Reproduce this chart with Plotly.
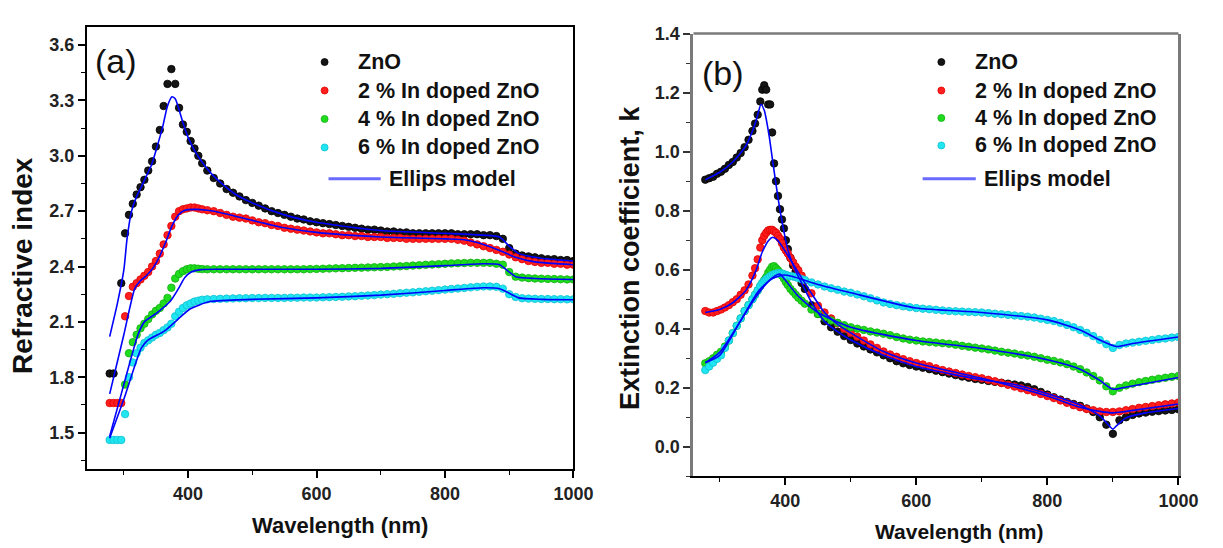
import plotly.graph_objects as go

W, H = 1223, 548

# ---------------- Panel (a): refractive index ----------------
wl_a = [278, 284, 290, 296, 302, 308, 314, 320, 326, 332, 338, 344, 350, 356, 362, 368, 374, 380,
        386, 392, 398, 404, 410, 416, 422,
        430, 440, 450, 460, 470, 480, 490, 500, 510, 520, 530, 540, 550, 560, 570, 580, 590, 600,
        610, 620, 630, 640, 650, 660, 670, 680, 690, 700, 710, 720, 730, 740, 750, 760, 770, 780,
        790, 800, 810, 820, 830, 840, 850, 860, 870, 880, 890, 900, 910, 920, 930, 940, 950, 960,
        970, 980, 990, 1000]

n_zno = [1.82, 1.82, None, 2.31, 2.58, 2.68, 2.74, 2.79, 2.83, 2.87, 2.92, 2.97, 3.05, 3.14, 3.27, 3.39, 3.47, 3.39,
         3.26, 3.17, 3.13, 3.08, 3.04, 3.00, 2.96,
         2.92, 2.88, 2.85, 2.82, 2.80, 2.78, 2.76, 2.745, 2.73, 2.715, 2.70, 2.69, 2.68, 2.67, 2.66, 2.655, 2.645, 2.64,
         2.635, 2.63, 2.625, 2.62, 2.615, 2.61, 2.605, 2.60, 2.60, 2.595, 2.59, 2.59, 2.585, 2.585, 2.58, 2.58, 2.58, 2.58,
         2.58, 2.58, 2.58, 2.575, 2.575, 2.575, 2.575, 2.57, 2.57, 2.565, 2.55, 2.50, 2.47, 2.46, 2.455, 2.45, 2.445, 2.44,
         2.44, 2.435, 2.435, 2.43]

n_in2 = [1.66, 1.66, 1.66, 1.66, 2.13, 2.24, 2.29, 2.31, 2.33, 2.35, 2.37, 2.40, 2.43, 2.47, 2.52, 2.57, 2.62, 2.67,
         2.70, 2.71, 2.715, 2.72, 2.72, 2.715, 2.71,
         2.705, 2.70, 2.69, 2.68, 2.67, 2.665, 2.66, 2.65, 2.64, 2.635, 2.625, 2.62, 2.61, 2.605, 2.60, 2.595, 2.59, 2.585,
         2.58, 2.58, 2.575, 2.57, 2.57, 2.565, 2.565, 2.56, 2.56, 2.56, 2.555, 2.555, 2.555, 2.55, 2.55, 2.55, 2.55, 2.55,
         2.55, 2.55, 2.55, 2.545, 2.54, 2.53, 2.52, 2.51, 2.50, 2.49, 2.48, 2.465, 2.45, 2.44, 2.43, 2.425, 2.42, 2.42,
         2.415, 2.415, 2.41, 2.41]

n_in4 = [None, None, None, None, 1.76, 1.93, 1.99, 2.03, 2.065, 2.09, 2.115, 2.14, 2.16, 2.175, 2.20, 2.23, 2.285, 2.335,
         2.36, 2.375, 2.385, 2.39, 2.39, 2.388, 2.386,
         2.385, 2.385, 2.385, 2.385, 2.385, 2.385, 2.385, 2.385, 2.385, 2.385, 2.385, 2.385, 2.385, 2.385, 2.385, 2.385, 2.386, 2.387,
         2.388, 2.389, 2.39, 2.391, 2.392, 2.393, 2.394, 2.395, 2.396, 2.397, 2.398, 2.40, 2.401, 2.403, 2.405, 2.407, 2.409, 2.411,
         2.413, 2.415, 2.417, 2.418, 2.419, 2.42, 2.42, 2.42, 2.42, 2.415, 2.41, 2.37, 2.345, 2.34, 2.337, 2.335, 2.334, 2.333,
         2.332, 2.331, 2.33, 2.33]

n_in6 = [1.46, 1.46, 1.46, 1.46, 1.60, 1.80, 1.88, 1.93, 1.96, 1.985, 2.00, 2.015, 2.03, 2.04, 2.055, 2.07, 2.09, 2.13,
         2.155, 2.175, 2.19, 2.20, 2.21, 2.215, 2.22,
         2.222, 2.224, 2.225, 2.226, 2.227, 2.228, 2.228, 2.229, 2.229, 2.23, 2.23, 2.23, 2.23, 2.231, 2.231, 2.232, 2.232, 2.232,
         2.233, 2.234, 2.235, 2.236, 2.238, 2.239, 2.241, 2.243, 2.245, 2.248, 2.25, 2.252, 2.255, 2.258, 2.26, 2.263, 2.266, 2.269,
         2.272, 2.275, 2.278, 2.281, 2.284, 2.287, 2.29, 2.292, 2.292, 2.29, 2.28, 2.25, 2.235, 2.228, 2.226, 2.225, 2.224, 2.224,
         2.223, 2.223, 2.222, 2.222]

# Ellips model curves, panel (a)
mwl_zno_a = [278, 290, 300, 305, 312, 320, 327, 335, 343, 351, 360, 368, 375, 380, 386, 392, 400, 410, 420, 440, 470,
             500, 550, 600, 700, 800, 860, 885, 900, 915, 950, 1000]
mn_zno_a = [2.02, 2.20, 2.38, 2.55, 2.70, 2.78, 2.83, 2.89, 2.95, 3.04, 3.15, 3.27, 3.32, 3.31, 3.25, 3.18, 3.10, 3.03,
            2.975, 2.89, 2.80, 2.745, 2.68, 2.64, 2.595, 2.58, 2.57, 2.56, 2.51, 2.47, 2.445, 2.43]

mwl_in2_a = [278, 300, 317, 325, 335, 345, 355, 365, 375, 385, 395, 410, 430, 460, 500, 550, 600, 700, 800, 830,
             860, 890, 910, 940, 1000]
mn_in2_a = [1.71, 2.03, 2.28, 2.32, 2.35, 2.39, 2.45, 2.53, 2.62, 2.68, 2.705, 2.71, 2.705, 2.685, 2.65, 2.61, 2.585,
            2.56, 2.55, 2.545, 2.52, 2.48, 2.45, 2.425, 2.41]

mwl_in4_a = [278, 300, 322, 332, 352, 372, 385, 395, 405, 420, 450, 600, 700, 800, 860, 885, 900, 910, 940, 1000]
mn_in4_a = [1.48, 1.76, 2.03, 2.10, 2.15, 2.21, 2.28, 2.34, 2.37, 2.383, 2.385, 2.385, 2.39, 2.405, 2.415, 2.41,
            2.37, 2.345, 2.335, 2.33]

mwl_in6_a = [278, 300, 327, 337, 363, 383, 403, 434, 500, 600, 700, 800, 860, 885, 900, 915, 950, 1000]
mn_in6_a = [1.47, 1.68, 1.956, 2.00, 2.05, 2.11, 2.17, 2.21, 2.222, 2.23, 2.245, 2.27, 2.285, 2.28, 2.255, 2.23,
            2.222, 2.22]

# ---------------- Panel (b): extinction coefficient ----------------
wl_b = [278, 284, 290, 296, 302, 308, 314, 320, 326, 332, 338, 344, 350, 354, 358, 362, 365, 368, 371, 374, 377, 380,
        383, 386, 389, 392, 395, 398, 401, 404, 408, 412, 416, 420, 425, 430,
        440, 450, 460, 470, 480, 490, 500, 510, 520, 530, 540, 550, 560, 570, 580, 590, 600, 610, 620, 630, 640,
        650, 660, 670, 680, 690, 700, 710, 720, 730, 740, 750, 760, 770, 780, 790, 800, 810, 820, 830, 840, 850,
        860, 870, 880, 890, 900, 910, 920, 930, 940, 950, 960, 970, 980, 990, 1000]

k_zno = [0.905, 0.91, 0.915, 0.925, 0.932, 0.942, 0.955, 0.965, 0.98, 0.995, 1.015, 1.04, 1.07, 1.095, 1.125, 1.17, 1.21,
         1.225, 1.21, 1.16, 1.16, 1.065, 0.96, 0.90, 0.85, 0.805, 0.77, 0.74, 0.70, 0.67, 0.64, 0.615, 0.595, 0.578, 0.555, 0.535,
         0.48, 0.45, 0.425, 0.405, 0.39, 0.375, 0.362, 0.35, 0.34, 0.33, 0.32, 0.31, 0.30, 0.29, 0.283, 0.277, 0.272,
         0.268, 0.263, 0.258, 0.253, 0.248, 0.243, 0.238, 0.234, 0.23, 0.227, 0.223, 0.22, 0.217, 0.214, 0.211, 0.208,
         0.203, 0.195, 0.186, 0.177, 0.168, 0.16, 0.152, 0.145, 0.139, 0.13, 0.118, 0.10, 0.075, 0.044, 0.09, 0.10,
         0.108, 0.113, 0.116, 0.119, 0.121, 0.123, 0.125, 0.127]

k_in2 = [0.46, 0.455, 0.455, 0.46, 0.465, 0.472, 0.48, 0.49, 0.50, 0.515, 0.53, 0.55, 0.58, 0.605, 0.635, 0.675, 0.70,
         0.715, 0.725, 0.733, 0.735, 0.735, 0.73, 0.725, 0.715, 0.705, 0.69, 0.675, 0.665, 0.655, 0.64, 0.625, 0.61, 0.598,
         0.58, 0.563,
         0.52, 0.478, 0.455, 0.435, 0.418, 0.40, 0.386, 0.373, 0.36, 0.347, 0.335, 0.323, 0.313, 0.305, 0.297, 0.29, 0.284,
         0.279, 0.273, 0.266, 0.26, 0.255, 0.25, 0.245, 0.24, 0.236, 0.232, 0.227, 0.222, 0.216, 0.21, 0.204, 0.198,
         0.192, 0.186, 0.179, 0.172, 0.165, 0.157, 0.149, 0.141, 0.134, 0.128, 0.124, 0.12, 0.118, 0.118, 0.12, 0.124,
         0.128, 0.132, 0.135, 0.138, 0.141, 0.144, 0.147, 0.15]

k_in4 = [0.283, 0.29, 0.30, 0.312, 0.322, 0.34, 0.36, 0.385, 0.41, 0.435, 0.46, 0.48, 0.50, 0.515, 0.53, 0.545, 0.555,
         0.565, 0.575, 0.59, 0.60, 0.61, 0.612, 0.605, 0.598, 0.59, 0.58, 0.57, 0.558, 0.548, 0.535, 0.525, 0.515, 0.505,
         0.495, 0.485,
         0.465, 0.45, 0.438, 0.428, 0.42, 0.412, 0.405, 0.40, 0.396, 0.391, 0.387, 0.383, 0.378, 0.372, 0.367, 0.363, 0.36,
         0.357, 0.355, 0.353, 0.351, 0.349, 0.346, 0.342, 0.339, 0.336, 0.333, 0.33, 0.326, 0.322, 0.319, 0.316, 0.312,
         0.309, 0.305, 0.30, 0.295, 0.291, 0.286, 0.28, 0.272, 0.263, 0.252, 0.24, 0.225, 0.205, 0.188, 0.20, 0.208,
         0.214, 0.219, 0.223, 0.227, 0.231, 0.234, 0.237, 0.24]

k_in6 = [0.26, 0.272, 0.285, 0.298, 0.31, 0.335, 0.36, 0.385, 0.41, 0.435, 0.46, 0.48, 0.50, 0.515, 0.53, 0.545, 0.555,
         0.562, 0.568, 0.573, 0.578, 0.582, 0.585, 0.587, 0.588, 0.588, 0.587, 0.585, 0.582, 0.58, 0.578, 0.577, 0.575,
         0.572, 0.568, 0.565,
         0.557, 0.55, 0.543, 0.537, 0.532, 0.526, 0.522, 0.516, 0.51, 0.503, 0.496, 0.489, 0.484, 0.48, 0.476, 0.473, 0.47,
         0.468, 0.466, 0.464, 0.462, 0.46, 0.459, 0.458, 0.457, 0.456, 0.455, 0.453, 0.451, 0.449, 0.447, 0.445, 0.443,
         0.441, 0.438, 0.434, 0.43, 0.426, 0.42, 0.413, 0.405, 0.396, 0.386, 0.375, 0.362, 0.348, 0.335, 0.345, 0.35,
         0.353, 0.356, 0.359, 0.362, 0.365, 0.367, 0.37, 0.372]

# Ellips model curves, panel (b)
mwl_zno_b = [278, 300, 320, 340, 355, 363, 368, 375, 382, 390, 398, 405, 415, 425, 440, 460, 480, 500, 550, 600,
             650, 700, 750, 800, 850, 880, 895, 900, 905, 920, 950, 1000]
mk_zno_b = [0.905, 0.93, 0.965, 1.02, 1.10, 1.16, 1.14, 1.06, 0.95, 0.83, 0.73, 0.66, 0.60, 0.555, 0.49, 0.425, 0.39,
            0.362, 0.31, 0.272, 0.248, 0.227, 0.211, 0.18, 0.142, 0.105, 0.07, 0.06, 0.07, 0.098, 0.115, 0.13]

mwl_in2_b = [278, 300, 320, 340, 355, 365, 375, 381, 388, 395, 405, 420, 440, 460, 480, 500, 550, 600, 700, 800, 850,
             880, 900, 920, 1000]
mk_in2_b = [0.455, 0.465, 0.488, 0.53, 0.595, 0.66, 0.70, 0.71, 0.70, 0.68, 0.645, 0.59, 0.52, 0.455, 0.415, 0.386,
            0.323, 0.284, 0.232, 0.172, 0.134, 0.12, 0.115, 0.12, 0.145]

mwl_in4_b = [278, 300, 330, 350, 370, 385, 392, 400, 420, 450, 500, 600, 700, 800, 850, 880, 900, 915, 1000]
mk_in4_b = [0.285, 0.32, 0.42, 0.49, 0.55, 0.58, 0.585, 0.565, 0.51, 0.455, 0.405, 0.36, 0.333, 0.295, 0.263, 0.225,
            0.195, 0.2, 0.235]

mwl_in6_b = [278, 300, 330, 360, 380, 397, 410, 450, 500, 600, 700, 800, 850, 880, 905, 930, 1000]
mk_in6_b = [0.285, 0.31, 0.42, 0.53, 0.57, 0.582, 0.578, 0.55, 0.522, 0.47, 0.455, 0.43, 0.396, 0.362, 0.34, 0.35,
            0.372]

series_names = ["ZnO", "2 % In doped ZnO", "4 % In doped ZnO", "6 % In doped ZnO"]
series_colors = ["#151515", "#ff1f1f", "#1fdc1f", "#20e6f2"]
edge_colors = ["#000000", "#e00000", "#10b010", "#10c0d0"]
model_color = "#0000ff"
legend_line_color = "#6a6aff"

FONT = "Liberation Sans, Arial, sans-serif"

fig = go.Figure()

data_a = [n_zno, n_in2, n_in4, n_in6]
models_a = [(mwl_zno_a, mn_zno_a), (mwl_in2_a, mn_in2_a), (mwl_in4_a, mn_in4_a), (mwl_in6_a, mn_in6_a)]
data_b = [k_zno, k_in2, k_in4, k_in6]
models_b = [(mwl_zno_b, mk_zno_b), (mwl_in2_b, mk_in2_b), (mwl_in4_b, mk_in4_b), (mwl_in6_b, mk_in6_b)]

for i, ys in enumerate(data_a):
    fig.add_trace(go.Scatter(x=wl_a, y=ys, mode="markers", name=series_names[i], showlegend=False,
                             marker=dict(size=7.5, color=series_colors[i],
                                         line=dict(width=0.8, color=edge_colors[i])),
                             xaxis="x", yaxis="y"))
for mx, my in models_a:
    fig.add_trace(go.Scatter(x=mx, y=my, mode="lines", name="Ellips model", showlegend=False,
                             line=dict(color=model_color, width=1.6, shape="spline", smoothing=0.6),
                             xaxis="x", yaxis="y"))

for i, ys in enumerate(data_b):
    fig.add_trace(go.Scatter(x=wl_b, y=ys, mode="markers", name=series_names[i], showlegend=False,
                             marker=dict(size=7.5, color=series_colors[i],
                                         line=dict(width=0.8, color=edge_colors[i])),
                             xaxis="x2", yaxis="y2"))
for mx, my in models_b:
    fig.add_trace(go.Scatter(x=mx, y=my, mode="lines", name="Ellips model", showlegend=False,
                             line=dict(color=model_color, width=1.6, shape="spline", smoothing=0.6),
                             xaxis="x2", yaxis="y2"))


def px_x(p):
    return p / W


def px_y(p):
    return 1 - p / H


tickfont = dict(family=FONT, size=18, color="#222222", weight="bold")

# Panel axes
fig.update_layout(
    xaxis=dict(domain=[px_x(88), px_x(583)], range=[242, 1000], tick0=0, dtick=200,
               ticks="outside", ticklen=7, tickwidth=1.5, tickcolor="#000",
               showline=True, linecolor="#000", linewidth=1.5, mirror=True,
               showgrid=False, zeroline=False, tickfont=tickfont,
               minor=dict(dtick=100, tick0=0, ticks="outside", ticklen=4, tickwidth=1.2, tickcolor="#000"),
               anchor="y"),
    yaxis=dict(domain=[px_y(468), px_y(17)], range=[1.3, 3.7], tick0=0, dtick=0.3, tickformat=".1f",
               ticks="outside", ticklen=7, tickwidth=1.5, tickcolor="#000",
               showline=True, linecolor="#000", linewidth=1.5, mirror=True,
               showgrid=False, zeroline=False, tickfont=tickfont,
               minor=dict(dtick=0.15, tick0=0, ticks="outside", ticklen=4, tickwidth=1.2, tickcolor="#000"),
               anchor="x"),
    xaxis2=dict(domain=[px_x(705), px_x(1198)], range=[260, 1000], tick0=0, dtick=200,
                ticks="outside", ticklen=7, tickwidth=1.5, tickcolor="#000",
                showline=True, linecolor="#000", linewidth=1.5, mirror=False,
                showgrid=False, zeroline=False, tickfont=tickfont,
                minor=dict(dtick=100, tick0=0, ticks="outside", ticklen=4, tickwidth=1.2, tickcolor="#000"),
                anchor="y2"),
    yaxis2=dict(domain=[px_y(475), px_y(24)], range=[-0.1, 1.4], tick0=0, dtick=0.2, tickformat=".1f",
                ticks="outside", ticklen=7, tickwidth=1.5, tickcolor="#333",
                showline=True, linecolor="#7a7a7a", linewidth=3, mirror=True,
                showgrid=False, zeroline=False, tickfont=tickfont,
                minor=dict(dtick=0.1, tick0=0, ticks="outside", ticklen=4, tickwidth=1.2, tickcolor="#333"),
                anchor="x2"),
)

shapes = []
annotations = []

# gray top border of panel (b)
shapes.append(dict(type="line", xref="x2 domain", yref="y2 domain", x0=0, x1=1, y0=1, y1=1,
                   line=dict(color="#7a7a7a", width=2.5)))

# legends (drawn manually to match the original layout)
for (mx, tx, lx0, lx1, ltx, rows) in [(330, 362, 334, 387, 393, [53, 82, 111, 140]),
                                      (957, 989, 938, 992, 998, [53, 82, 110, 138])]:
    for i, ry in enumerate(rows):
        shapes.append(dict(type="circle", xref="paper", yref="paper", xsizemode="pixel", ysizemode="pixel",
                           xanchor=px_x(mx), yanchor=px_y(ry), x0=-3.5, x1=3.5, y0=-3.5, y1=3.5,
                           fillcolor=series_colors[i], line=dict(color=edge_colors[i], width=0.8)))
        annotations.append(dict(xref="paper", yref="paper", x=px_x(tx), y=px_y(ry), xanchor="left",
                                yanchor="middle", showarrow=False, text="<b>" + series_names[i] + "</b>",
                                font=dict(family=FONT, size=21.5, color="#111")))
    shapes.append(dict(type="line", xref="paper", yref="paper", x0=px_x(lx0), x1=px_x(lx1),
                       y0=px_y(172), y1=px_y(172), line=dict(color=legend_line_color, width=3)))
    annotations.append(dict(xref="paper", yref="paper", x=px_x(ltx), y=px_y(172), xanchor="left",
                            yanchor="middle", showarrow=False, text="<b>Ellips model</b>",
                            font=dict(family=FONT, size=21.5, color="#111")))

# panel labels
annotations.append(dict(xref="paper", yref="paper", x=px_x(118), y=px_y(52), xanchor="center", yanchor="middle",
                        showarrow=False, text="(a)", font=dict(family=FONT, size=34, color="#111")))
annotations.append(dict(xref="paper", yref="paper", x=px_x(735), y=px_y(64), xanchor="center", yanchor="middle",
                        showarrow=False, text="(b)", font=dict(family=FONT, size=34, color="#111")))

# axis titles
annotations.append(dict(xref="paper", yref="paper", x=px_x(346), y=px_y(525), xanchor="center", yanchor="middle",
                        showarrow=False, text="<b>Wavelength (nm)</b>",
                        font=dict(family=FONT, size=22, color="#111")))
annotations.append(dict(xref="paper", yref="paper", x=px_x(975), y=px_y(531), xanchor="center", yanchor="middle",
                        showarrow=False, text="<b>Wavelength (nm)</b>",
                        font=dict(family=FONT, size=21, color="#111")))
annotations.append(dict(xref="paper", yref="paper", x=px_x(23), y=px_y(260), xanchor="center", yanchor="middle",
                        showarrow=False, textangle=-90, text="<b>Refractive index</b>",
                        font=dict(family=FONT, size=28, color="#111")))
annotations.append(dict(xref="paper", yref="paper", x=px_x(641), y=px_y(253), xanchor="center", yanchor="middle",
                        showarrow=False, textangle=-90, text="<b>Extinction coefficient, k</b>",
                        font=dict(family=FONT, size=27, color="#111")))

fig.update_layout(
    width=W, height=H,
    margin=dict(l=0, r=0, t=0, b=0),
    paper_bgcolor="white", plot_bgcolor="white",
    showlegend=False,
    shapes=shapes, annotations=annotations,
    font=dict(family=FONT),
)

fig.write_html("out.html")
